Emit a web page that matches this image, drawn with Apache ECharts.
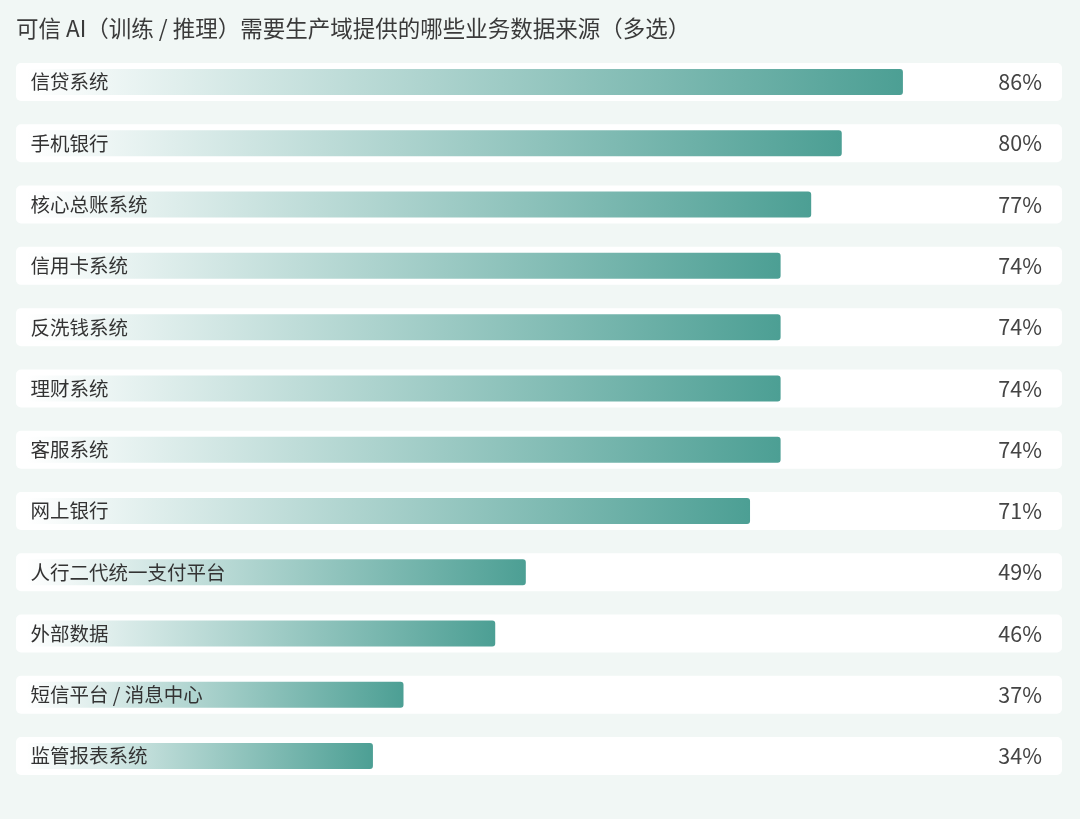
<!DOCTYPE html>
<html>
<head>
<meta charset="utf-8">
<script src="https://cdn.jsdelivr.net/npm/echarts@6/dist/echarts.min.js"></script>
<style>
html,body{margin:0;padding:0;background:#f1f7f5;}
#chart{width:1080px;height:819px;}
</style>
</head>
<body>
<div id="chart"></div>
<script>
const titleText = '可信 AI（训练 / 推理）需要生产域提供的哪些业务数据来源（多选）';
const categories = ['信贷系统','手机银行','核心总账系统','信用卡系统','反洗钱系统','理财系统','客服系统','网上银行','人行二代统一支付平台','外部数据','短信平台 / 消息中心','监管报表系统'];
const values = [86, 80, 77, 74, 74, 74, 74, 71, 49, 46, 37, 34];
const rowFull = categories.map(() => 1);

const font = '"Noto Sans CJK SC", "Noto Sans", sans-serif';
const chart = echarts.init(document.getElementById('chart'));
const gridTop = 51.4, gridBottom = 32.3;
chart.setOption({
  backgroundColor: '#f1f7f5',
  animation: false,
  title: {
    text: titleText,
    left: 11, top: 12,
    textStyle: {fontFamily: font, fontSize: 22.5, fontWeight: 'normal', color: '#3a3a3a'}
  },
  grid: [
    {left: 16, right: 18, top: gridTop, bottom: gridBottom},
    {left: 26.4, right: 34.4, top: gridTop, bottom: gridBottom}
  ],
  xAxis: [
    {gridIndex: 0, type: 'value', min: 0, max: 1, show: false},
    {gridIndex: 1, type: 'value', min: 0, max: 100, show: false}
  ],
  yAxis: [
    {gridIndex: 0, type: 'category', data: categories, inverse: true, show: false},
    {gridIndex: 1, type: 'category', data: categories, inverse: true, show: false}
  ],
  series: [
    {
      type: 'bar', xAxisIndex: 0, yAxisIndex: 0,
      data: rowFull, barWidth: 38,
      itemStyle: {color: '#ffffff', borderRadius: 5},
      label: {
        show: true, position: 'insideRight', distance: 20,
        formatter: p => values[p.dataIndex] + '%',
        fontFamily: font, fontSize: 21.5, color: '#444444'
      },
      silent: true
    },
    {
      type: 'bar', xAxisIndex: 1, yAxisIndex: 1,
      data: values, barWidth: 26,
      itemStyle: {
        borderRadius: 3,
        color: new echarts.graphic.LinearGradient(0, 0, 1, 0, [
          {offset: 0, color: 'rgba(255,255,255,1)'},
          {offset: 1, color: '#4c9f94'}
        ])
      },
      label: {
        show: true, position: 'insideLeft', distance: 4,
        formatter: p => categories[p.dataIndex],
        fontFamily: font, fontSize: 19.5, color: '#333333'
      }
    }
  ]
});
</script>
</body>
</html>
